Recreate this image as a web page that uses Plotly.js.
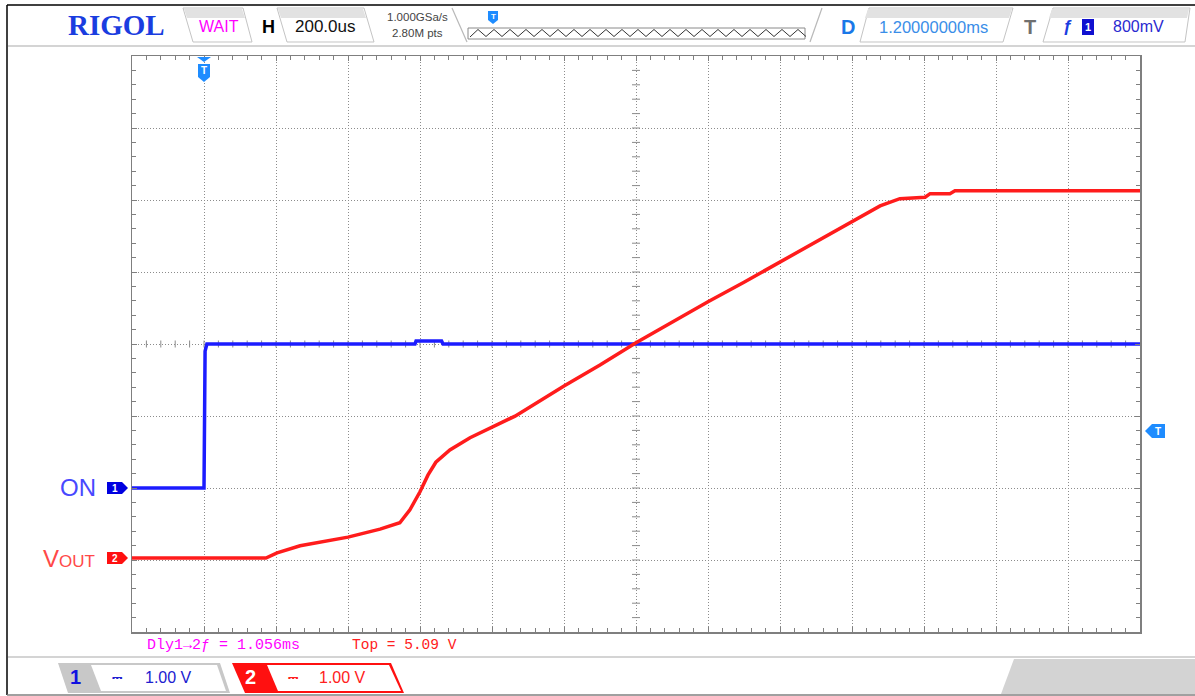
<!DOCTYPE html>
<html>
<head>
<meta charset="utf-8">
<script src="https://cdn.plot.ly/plotly-3.0.1.min.js"></script>
<style>html,body{margin:0;padding:0;background:#fff;}#chart{width:1195px;height:696px;}</style>
</head>
<body>
<div id="chart"></div>
<script>
// ---- data (time in ms, voltage in V) ----
const ch1Time = [-0.2, 0.0, 0.003, 0.008, 0.586, 0.589, 0.66, 0.664, 2.6];
const ch1Volt = [0, 0, 1.9, 2.0, 2.0, 2.04, 2.04, 2.0, 2.0];
const ch2Time = [-0.2, 0.172, 0.203, 0.267, 0.4, 0.489, 0.544, 0.572, 0.6, 0.622, 0.644, 0.683, 0.739, 0.8, 0.864, 1.0, 1.1, 1.2, 1.3, 1.4, 1.5, 1.6, 1.7, 1.8, 1.878, 1.933, 2.003, 2.017, 2.072, 2.086, 2.6];
const ch2Volt = [0, 0, 0.07, 0.17, 0.29, 0.40, 0.49, 0.67, 0.92, 1.15, 1.33, 1.50, 1.67, 1.81, 1.97, 2.39, 2.68, 2.99, 3.28, 3.56, 3.83, 4.11, 4.39, 4.67, 4.89, 4.99, 5.01, 5.06, 5.06, 5.10, 5.10];
const timeRange = [-0.2, 2.6];   // 200us/div, delay 1.2ms
const ch1Range = [-2, 6];        // 1.00 V/div
const ch2Range = [-1.028, 6.972];// 1.00 V/div
const labels = {brand:'RIGOL', status:'WAIT', hScale:'200.0us', rate:'1.000GSa/s', depth:'2.80M pts',
  delay:'1.20000000ms', trigLevel:'800mV', ch1Scale:'1.00 V', ch2Scale:'1.00 V',
  meas1:'Dly1→2ƒ = 1.056ms', meas2:'Top = 5.09 V', ch1Name:'ON', ch2Name:'V<span style="font-size:17px">OUT</span>'};

// ---- geometry helpers (pixel -> paper) ----
const L=132, R=1140, T=56, B=632;
const px = x => (x-L)/(R-L);
const py = y => (B-y)/(B-T);
const shapes = [], ann = [];
const SANS = 'Liberation Sans, Arial, sans-serif';
function poly(pts, fill, lc, lw){
  shapes.push({type:'path', xref:'paper', yref:'paper', layer:'above',
    path:'M '+pts.map(p=>px(p[0]).toFixed(5)+','+py(p[1]).toFixed(5)).join(' L ')+' Z',
    fillcolor:fill, line:{color:lc||fill, width:lw===undefined?1:lw}});
}
function line(x0,y0,x1,y1,c,w,dash){
  shapes.push({type:'line', xref:'paper', yref:'paper', layer:'above', x0:px(x0), y0:py(y0), x1:px(x1), y1:py(y1),
    line:{color:c, width:w||1, dash:dash||'solid'}});
}
function txt(x,y,text,size,color,o){
  o=o||{};
  ann.push({xref:'paper', yref:'paper', x:px(x), y:py(y), text:text, showarrow:false,
    xanchor:o.xa||'center', yanchor:'middle', font:{family:o.fam||SANS, size:size, color:color, weight:o.bold?'bold':'normal'}});
}

// ---- outer frame / bars ----
line(7,5,1195,5,'#000',1.5);
line(7,5,7,695,'#000',1.5);
line(7,695,1195,695,'#808080',1.5);
line(8,46,1195,46,'#d4d4d4',2);
line(8,657,1195,657,'#d4d4d4',2);
poly([[1014,659],[1195,659],[1195,694],[1001,694]],'#d3d3d3','#d3d3d3',0);

// ---- header ----
txt(116,25,labels.brand,29,'#1a3de0',{fam:'Liberation Serif, Times New Roman, serif',bold:true});
function box(pts){ poly(pts,'#ffffff','#c4c4c4',1); }
box([[183,8],[243,8],[252,42],[193,42]]);
poly([[184,9],[242,9],[245,18],[187,18]],'#e2e2e2','#e2e2e2',0);
txt(219,26,labels.status,16,'#ff00ff');
txt(268,27,'H',18,'#000',{bold:true});
box([[277,8],[364,8],[374,42],[287,42]]);
poly([[278,9],[363,9],[366,18],[281,18]],'#e2e2e2','#e2e2e2',0);
txt(325,27,labels.hScale,17,'#111');
txt(417,17,labels.rate,11.5,'#444');
txt(417,33,labels.depth,11.5,'#444');
line(452,8,467,42,'#b8b8b8',1.2);
line(822,8,810,42,'#b8b8b8',1.2);
shapes.push({type:'rect', xref:'paper', yref:'paper', layer:'above', x0:px(468), x1:px(805), y0:py(39), y1:py(28), line:{color:'#8a8a8a',width:1}, fillcolor:'#fff'});
let zz='M '+px(470).toFixed(5)+','+py(37).toFixed(5);
for(let i=0;i<42;i++){ const xx=470+(i+1)*8; zz+=' L '+px(xx).toFixed(5)+','+py(i%2===0?29.5:36.5).toFixed(5); }
shapes.push({type:'path', xref:'paper', yref:'paper', layer:'above', path:zz, line:{color:'#333',width:1}});
poly([[488,11],[498,11],[498,20],[493,24],[488,20]],'#1e8cff','#1e8cff',0);
txt(493,16,'T',8,'#fff',{bold:true});
txt(848,27,'D',20,'#1a78e8',{bold:true});
box([[869,8],[1013,8],[1003,42],[860,42]]);
poly([[868,9],[1012,9],[1009,18],[865,18]],'#e2e2e2','#e2e2e2',0);
txt(933,27,labels.delay,16.5,'#3a8ee8');
txt(1030,27,'T',20,'#6f6f6f',{bold:true});
box([[1053,8],[1190,8],[1185,42],[1043,42]]);
poly([[1052,9],[1189,9],[1187,18],[1049,18]],'#e2e2e2','#e2e2e2',0);
txt(1067,27,'ƒ',17,'#1a3de0',{bold:true});
poly([[1082,19],[1094,19],[1094,35],[1082,35]],'#1010d0','#1010d0',0);
txt(1088,27,'1',11,'#fff',{bold:true});
txt(1138,27,labels.trigLevel,16,'#2a2ad0');

// ---- bottom bar ----
poly([[58,663],[220,663],[230,693],[68,693]],'#c8c8c8','#c8c8c8',0);
poly([[91,665],[217,665],[226,691],[101,691]],'#ffffff','#ffffff',0);
txt(75,677,'1',20,'#1010e0',{bold:true});
txt(117,677,'⎓',13,'#2020d0',{fam:'DejaVu Sans'});
txt(168,677,labels.ch1Scale,16,'#2020d0');
poly([[232,663],[391,663],[404,693],[245,693]],'#ff1010','#ff1010',0);
poly([[267,665],[389,665],[401,691],[278,691]],'#ffffff','#ffffff',0);
txt(250,677,'2',20,'#ffffff',{bold:true});
txt(293,677,'⎓',13,'#ff2020',{fam:'DejaVu Sans'});
txt(342,677,labels.ch2Scale,16,'#ff2020');

// ---- measurements ----
txt(145,645,labels.meas1,15,'#ff00ff',{xa:'left',fam:'Liberation Mono, DejaVu Sans Mono, monospace'});
txt(350,645,labels.meas2,14.5,'#ff2020',{xa:'left',fam:'Liberation Mono, DejaVu Sans Mono, monospace'});

// ---- channel labels / markers ----
txt(98,487,labels.ch1Name,24,'#4848ff',{xa:'right'});
txt(97,558,labels.ch2Name,24,'#ff4848',{xa:'right'});
poly([[107,482],[122,482],[128,488],[122,494],[107,494]],'#0000e0','#0000e0',0);
txt(115,488,'1',10,'#fff',{bold:true});
poly([[107,552],[122,552],[128,558],[122,564],[107,564]],'#ff1010','#ff1010',0);
txt(115,558,'2',10,'#fff',{bold:true});

// trigger markers
poly([[197,57],[211,57],[204,62]],'#1e8cff','#1e8cff',0);
poly([[198,64],[210,64],[210,77],[204,82],[198,77]],'#1e8cff','#1e8cff',0);
txt(204,71,'T',10,'#fff',{bold:true});
poly([[1145,431],[1152,424],[1165,424],[1165,438],[1152,438]],'#1e8cff','#1e8cff',0);
txt(1158,431,'T',10,'#fff',{bold:true});

// ---- centre cross ticks ----
const xDiv=(timeRange[1]-timeRange[0])/14, yDiv=(ch1Range[1]-ch1Range[0])/8;
for(let i=1;i<70;i++){
  const t=timeRange[0]+i*xDiv/5;
  shapes.push({type:'line', xref:'x', yref:'paper', layer:'below', x0:t, x1:t, y0:0.5-3.5/576, y1:0.5+3.5/576, line:{color:'#8a8a8a',width:1}});
}
for(let i=1;i<40;i++){
  const v=ch1Range[0]+i*yDiv/5;
  shapes.push({type:'line', xref:'paper', yref:'y', layer:'below', x0:0.5-4/1008, x1:0.5+4/1008, y0:v, y1:v, line:{color:'#8a8a8a',width:1}});
}

const traces = [
  {x:ch1Time, y:ch1Volt, yaxis:'y', mode:'lines', line:{color:'#1c1cff', width:3.5}, hoverinfo:'skip', showlegend:false},
  {x:ch2Time, y:ch2Volt, yaxis:'y2', mode:'lines', line:{color:'#ff1c1c', width:3.5}, hoverinfo:'skip', showlegend:false}
];
const axBase = {showgrid:true, gridcolor:'#8c8c8c', griddash:'1px,2px', gridwidth:1, zeroline:false,
  showline:true, linecolor:'#7f7f7f', linewidth:1.5, mirror:'ticks', ticks:'inside', ticklen:5,
  tickcolor:'#7f7f7f', tickwidth:1, showticklabels:false, fixedrange:true};
const layout = {
  width:1195, height:696, margin:{l:132, r:55, t:56, b:64, pad:0},
  paper_bgcolor:'#ffffff', plot_bgcolor:'#ffffff', showlegend:false,
  xaxis: Object.assign({}, axBase, {range:timeRange, tick0:timeRange[0], dtick:xDiv,
    minor:{dtick:xDiv/5, tick0:timeRange[0], ticks:'inside', ticklen:4, tickcolor:'#7f7f7f', showgrid:false}}),
  yaxis: Object.assign({}, axBase, {range:ch1Range, tick0:ch1Range[0], dtick:yDiv,
    minor:{dtick:yDiv/5, tick0:ch1Range[0], ticks:'inside', ticklen:4, tickcolor:'#7f7f7f', showgrid:false}}),
  yaxis2: {range:ch2Range, overlaying:'y', visible:false, fixedrange:true},
  shapes: shapes, annotations: ann
};
Plotly.newPlot('chart', traces, layout, {staticPlot:true, displayModeBar:false});
</script>
</body>
</html>
